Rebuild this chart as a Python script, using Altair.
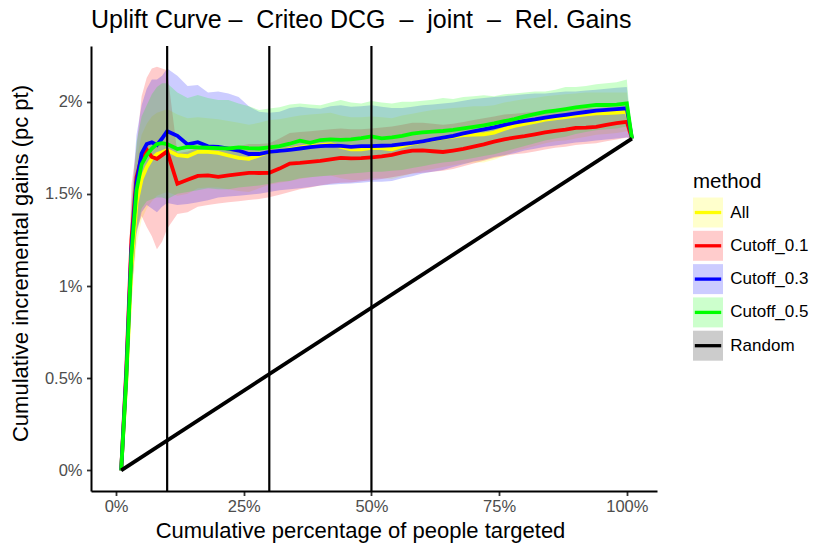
import altair as alt
import pandas as pd

# ---------------- data (values in percent) ----------------
X_EARLY = [1, 2, 3, 4, 5, 6, 7, 8, 9, 10]
X_MAIN = list(range(12, 101, 2))
X_END = [101]
XS = X_EARLY + X_MAIN + X_END

END_VALUE = [1.80]

# All (yellow)
ALL_Y = [0, 0.48, 1.10, 1.45, 1.58, 1.645, 1.69, 1.715, 1.725, 1.737,
         1.71, 1.704, 1.728, 1.728, 1.722, 1.708, 1.695, 1.69, 1.708, 1.728,
         1.733, 1.742, 1.752, 1.76, 1.764, 1.769, 1.755, 1.741, 1.741, 1.75,
         1.748, 1.742, 1.758, 1.773, 1.784, 1.794, 1.803, 1.81, 1.819, 1.822,
         1.823, 1.832, 1.852, 1.869, 1.88, 1.89, 1.902, 1.91, 1.916, 1.924,
         1.931, 1.936, 1.938, 1.941, 1.945] + END_VALUE
ALL_HI = [0, 0.58, 1.32, 1.68, 1.82, 1.88, 1.92, 1.94, 1.95, 1.96,
          1.93, 1.91, 1.915, 1.91, 1.905, 1.895, 1.885, 1.875, 1.885, 1.90,
          1.905, 1.915, 1.925, 1.93, 1.935, 1.94, 1.925, 1.915, 1.915, 1.92,
          1.915, 1.91, 1.925, 1.935, 1.945, 1.955, 1.96, 1.965, 1.97, 1.975,
          1.975, 1.98, 1.995, 2.005, 2.015, 2.02, 2.03, 2.035, 2.04, 2.045,
          2.05, 2.05, 2.05, 2.05, 2.05] + END_VALUE
ALL_LO = [0, 0.38, 0.90, 1.22, 1.36, 1.42, 1.46, 1.49, 1.50, 1.51,
          1.49, 1.50, 1.53, 1.535, 1.535, 1.525, 1.515, 1.51, 1.53, 1.55,
          1.56, 1.57, 1.58, 1.59, 1.595, 1.60, 1.585, 1.575, 1.575, 1.585,
          1.585, 1.58, 1.595, 1.61, 1.625, 1.635, 1.645, 1.655, 1.665, 1.67,
          1.67, 1.685, 1.705, 1.73, 1.745, 1.76, 1.775, 1.785, 1.79, 1.80,
          1.81, 1.82, 1.825, 1.83, 1.84] + END_VALUE

# Cutoff_0.1 (red)
C01_Y = [0, 0.55, 1.25, 1.59, 1.70, 1.74, 1.70, 1.69, 1.71, 1.73,
         1.555, 1.576, 1.597, 1.60, 1.592, 1.60, 1.607, 1.614, 1.613, 1.614,
         1.637, 1.664, 1.668, 1.674, 1.679, 1.687, 1.695, 1.692, 1.694, 1.698,
         1.703, 1.711, 1.725, 1.734, 1.736, 1.731, 1.727, 1.735, 1.744, 1.756,
         1.768, 1.783, 1.796, 1.805, 1.813, 1.823, 1.833, 1.842, 1.848, 1.858,
         1.859, 1.863, 1.874, 1.883, 1.891] + END_VALUE
C01_HI = [0, 0.70, 1.55, 1.75, 2.03, 2.13, 2.18, 2.19, 2.18, 2.17,
          1.72, 1.73, 1.75, 1.755, 1.745, 1.755, 1.76, 1.77, 1.77, 1.775,
          1.80, 1.83, 1.835, 1.84, 1.845, 1.85, 1.855, 1.85, 1.85, 1.855,
          1.86, 1.865, 1.875, 1.885, 1.885, 1.88, 1.875, 1.88, 1.89, 1.90,
          1.91, 1.92, 1.93, 1.935, 1.94, 1.945, 1.95, 1.955, 1.96, 1.965,
          1.965, 1.965, 1.97, 1.975, 1.98] + END_VALUE
C01_LO = [0, 0.40, 0.95, 1.30, 1.38, 1.32, 1.27, 1.20, 1.24, 1.31,
          1.39, 1.40, 1.43, 1.44, 1.448, 1.455, 1.46, 1.466, 1.472, 1.482,
          1.495, 1.51, 1.525, 1.535, 1.545, 1.555, 1.56, 1.562, 1.568, 1.574,
          1.58, 1.59, 1.60, 1.61, 1.615, 1.62, 1.625, 1.635, 1.65, 1.665,
          1.68, 1.695, 1.705, 1.715, 1.72, 1.73, 1.74, 1.75, 1.755, 1.765,
          1.77, 1.775, 1.785, 1.795, 1.805] + END_VALUE

# Cutoff_0.3 (blue)
C03_Y = [0, 0.52, 1.20, 1.56, 1.72, 1.77, 1.78, 1.765, 1.80, 1.84,
         1.815, 1.768, 1.78, 1.758, 1.755, 1.745, 1.735, 1.716, 1.716, 1.728,
         1.733, 1.739, 1.746, 1.754, 1.759, 1.762, 1.76, 1.755, 1.759, 1.759,
         1.761, 1.763, 1.77, 1.776, 1.785, 1.795, 1.805, 1.815, 1.828, 1.839,
         1.85, 1.861, 1.874, 1.886, 1.896, 1.904, 1.914, 1.921, 1.929, 1.937,
         1.944, 1.951, 1.955, 1.96, 1.964] + END_VALUE
C03_HI = [0, 0.62, 1.45, 1.82, 1.98, 2.07, 2.12, 2.12, 2.14, 2.18,
          2.14, 2.085, 2.09, 2.05, 2.055, 2.045, 2.025, 1.975, 1.945, 1.94,
          1.945, 1.965, 1.972, 1.965, 1.962, 1.975, 1.98, 1.972, 1.975, 1.98,
          1.972, 1.965, 1.965, 1.972, 1.98, 1.985, 1.99, 1.995, 2.005, 2.015,
          2.02, 2.025, 2.03, 2.035, 2.04, 2.045, 2.045, 2.05, 2.055, 2.055,
          2.06, 2.065, 2.07, 2.075, 2.08] + END_VALUE
C03_LO = [0, 0.42, 0.95, 1.28, 1.40, 1.44, 1.42, 1.40, 1.43, 1.45,
          1.44, 1.445, 1.455, 1.465, 1.48, 1.485, 1.49, 1.495, 1.50, 1.51,
          1.52, 1.525, 1.53, 1.537, 1.545, 1.55, 1.553, 1.556, 1.56, 1.565,
          1.565, 1.57, 1.585, 1.595, 1.61, 1.62, 1.63, 1.645, 1.66, 1.675,
          1.685, 1.70, 1.71, 1.72, 1.735, 1.745, 1.755, 1.762, 1.77, 1.778,
          1.783, 1.79, 1.795, 1.80, 1.805] + END_VALUE

# Cutoff_0.5 (green)
C05_Y = [0, 0.50, 1.17, 1.52, 1.66, 1.71, 1.745, 1.77, 1.775, 1.77,
         1.743, 1.755, 1.752, 1.75, 1.748, 1.746, 1.752, 1.748, 1.746, 1.752,
         1.759, 1.772, 1.788, 1.777, 1.792, 1.795, 1.793, 1.795, 1.802, 1.812,
         1.801, 1.806, 1.815, 1.827, 1.833, 1.838, 1.841, 1.847, 1.855, 1.863,
         1.872, 1.882, 1.894, 1.905, 1.92, 1.932, 1.944, 1.952, 1.96, 1.969,
         1.976, 1.982, 1.982, 1.984, 1.991] + END_VALUE
C05_HI = [0, 0.60, 1.40, 1.78, 1.92, 1.98, 2.04, 2.08, 2.10, 2.10,
          2.05, 2.02, 2.036, 2.02, 2.009, 2.009, 1.99, 1.975, 1.955, 1.963,
          1.97, 1.985, 1.99, 1.985, 1.98, 1.995, 2.009, 1.995, 1.99, 2.003,
          1.995, 1.99, 2.0, 2.0, 2.005, 2.01, 2.02, 2.015, 2.025, 2.03,
          2.035, 2.03, 2.04, 2.045, 2.05, 2.055, 2.055, 2.065, 2.08, 2.08,
          2.085, 2.095, 2.10, 2.105, 2.12] + END_VALUE
C05_LO = [0, 0.40, 0.95, 1.30, 1.42, 1.46, 1.47, 1.48, 1.48, 1.47,
          1.50, 1.51, 1.52, 1.53, 1.525, 1.525, 1.535, 1.54, 1.545, 1.555,
          1.565, 1.57, 1.585, 1.59, 1.595, 1.60, 1.605, 1.61, 1.615, 1.62,
          1.62, 1.625, 1.63, 1.64, 1.65, 1.66, 1.67, 1.675, 1.685, 1.695,
          1.705, 1.715, 1.73, 1.745, 1.76, 1.775, 1.79, 1.80, 1.81, 1.825,
          1.835, 1.845, 1.85, 1.855, 1.865] + END_VALUE

# Random baseline
RANDOM_X = [1, 101]
RANDOM_Y = [0, 1.80]

VLINES = [10, 30, 50]

METHODS = ["All", "Cutoff_0.1", "Cutoff_0.3", "Cutoff_0.5", "Random"]
LINE_COLORS = ["#FFFF00", "#FF0000", "#0000FF", "#00FF00", "#000000"]
FILL_COLORS = ["rgba(255,255,0,0.2)", "rgba(255,0,0,0.2)", "rgba(0,0,255,0.2)",
               "rgba(0,255,0,0.2)", "rgba(0,0,0,0.2)"]

TITLE = "Uplift Curve \u2013\u00a0 Criteo DCG\u00a0 \u2013\u00a0 joint\u00a0 \u2013\u00a0 Rel. Gains"

# ---------------- build table ----------------
rows = []
series = {
    "All": (ALL_Y, ALL_LO, ALL_HI),
    "Cutoff_0.1": (C01_Y, C01_LO, C01_HI),
    "Cutoff_0.3": (C03_Y, C03_LO, C03_HI),
    "Cutoff_0.5": (C05_Y, C05_LO, C05_HI),
}
for m, (ys, los, his) in series.items():
    for x, y, lo, hi in zip(XS, ys, los, his):
        rows.append({"x": x, "method": m, "y": y, "lo": lo, "hi": hi})
for x, y in zip(RANDOM_X, RANDOM_Y):
    rows.append({"x": x, "method": "Random", "y": y, "lo": y, "hi": y})
df = pd.DataFrame(rows)
vdf = pd.DataFrame({"v": VLINES})

FONT = "Liberation Sans"

xscale = alt.Scale(domain=[-4.91, 105.91], nice=False, zero=False)
yscale = alt.Scale(domain=[-0.112, 2.302], nice=False, zero=False)

xaxis = alt.Axis(values=[0, 25, 50, 75, 100], labelExpr="datum.value + '%'",
                 title="Cumulative percentage of people targeted", grid=False,
                 domainColor="black", domainWidth=2, tickColor="#333333",
                 tickWidth=1.8, tickSize=4.5, labelColor="#4D4D4D",
                 labelFontSize=16.5, labelPadding=3, labelFont=FONT,
                 titleFont=FONT, titleFontSize=22, titleFontWeight="normal",
                 titleColor="black", titleX=269, titleY=46.3,
                 titleBaseline="alphabetic", titleAlign="center")
yaxis = alt.Axis(values=[0, 0.5, 1, 1.5, 2], labelExpr="datum.value + '%'",
                 title="Cumulative incremental gains (pc pt)", grid=False,
                 domainColor="black", domainWidth=2, tickColor="#333333",
                 tickWidth=1.8, tickSize=4.5, labelColor="#4D4D4D",
                 labelFontSize=16.5, labelPadding=4.5, labelFont=FONT,
                 titleFont=FONT, titleFontSize=22, titleFontWeight="normal",
                 titleColor="black", titleX=-64, titleY=217,
                 titleBaseline="alphabetic", titleAlign="center", titleAngle=270)

common_legend = dict(orient="none", symbolSize=900, symbolOpacity=1,
                     labelFontSize=17, labelFont=FONT, titleFont=FONT,
                     titleFontSize=20.5, titleFontWeight="normal",
                     titlePadding=5, padding=0, labelLimit=200)

# light square keys with the visible labels and title
fill_legend = alt.Legend(title="method", legendX=602, legendY=126,
                         symbolType="square", symbolStrokeWidth=0,
                         labelOffset=7.3, rowPadding=3.3, labelColor="black",
                         titleColor="black", **common_legend)
# line keys drawn over the squares (empty texts keep the same row layout)
stroke_legend = alt.Legend(title=" ", legendX=600, legendY=124,
                           symbolType="M-0.88,0H0.88", symbolStrokeWidth=3.3,
                           symbolFillColor="transparent", labelOffset=7.3,
                           rowPadding=8.3, labelExpr="''",
                           labelColor="transparent", titleColor="transparent",
                           **common_legend)

area = alt.Chart(df).mark_area(opacity=1, interpolate="linear").encode(
    x=alt.X("x:Q", scale=xscale, axis=xaxis),
    y=alt.Y("lo:Q", scale=yscale, axis=yaxis),
    y2="hi:Q",
    fill=alt.Fill("method:N", scale=alt.Scale(range=FILL_COLORS), legend=fill_legend),
)

line = alt.Chart(df).mark_line(strokeWidth=3.8, interpolate="linear").encode(
    x=alt.X("x:Q", scale=xscale, axis=xaxis),
    y=alt.Y("y:Q", scale=yscale, axis=yaxis),
    stroke=alt.Stroke("method:N", scale=alt.Scale(domain=METHODS, range=LINE_COLORS),
                      legend=stroke_legend),
)

rules = alt.Chart(vdf).mark_rule(color="black", strokeWidth=2.2).encode(
    x=alt.X("v:Q", scale=xscale, axis=xaxis),
)

chart = alt.layer(area, line, rules).properties(
    width=566,
    height=445,
    title=alt.Title(text=TITLE, anchor="start", frame="group", fontSize=25,
                    fontWeight="normal", color="black", font=FONT, offset=12),
    autosize=alt.AutoSizeParams(type="none"),
    padding={"left": 83, "top": 38, "right": 160, "bottom": 62},
    background="white",
).configure(font=FONT).configure_view(strokeWidth=0)

chart.save("out.html", embed_options={"renderer": "svg", "actions": False})
